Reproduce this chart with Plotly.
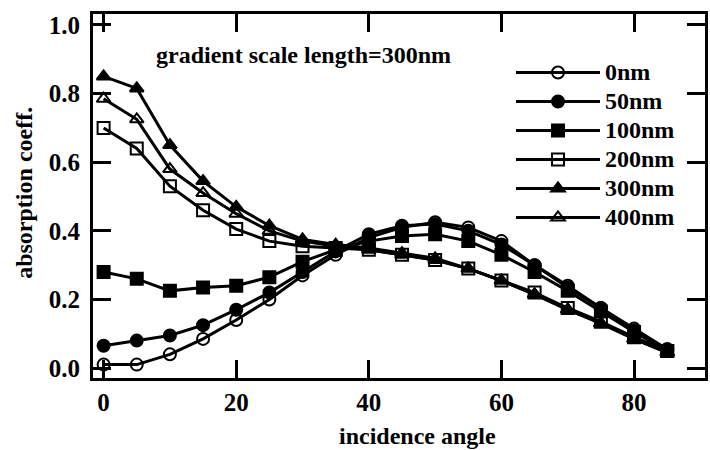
import plotly.graph_objects as go

angles = [0, 5, 10, 15, 20, 25, 30, 35, 40, 45, 50, 55, 60, 65, 70, 75, 80, 85]
s0 = [0.01, 0.01, 0.04, 0.085, 0.14, 0.20, 0.27, 0.33, 0.38, 0.41, 0.425, 0.41, 0.37, 0.30, 0.24, 0.175, 0.115, 0.055]
s50 = [0.065, 0.08, 0.095, 0.125, 0.17, 0.22, 0.28, 0.34, 0.39, 0.415, 0.42, 0.40, 0.36, 0.30, 0.235, 0.175, 0.11, 0.055]
s100 = [0.28, 0.26, 0.225, 0.235, 0.24, 0.265, 0.31, 0.345, 0.37, 0.385, 0.39, 0.37, 0.33, 0.28, 0.225, 0.165, 0.105, 0.05]
s200 = [0.70, 0.64, 0.53, 0.46, 0.405, 0.37, 0.355, 0.35, 0.345, 0.33, 0.315, 0.29, 0.255, 0.22, 0.175, 0.135, 0.09, 0.05]
s300 = [0.85, 0.815, 0.65, 0.545, 0.47, 0.415, 0.375, 0.36, 0.35, 0.335, 0.32, 0.29, 0.255, 0.215, 0.17, 0.13, 0.085, 0.045]
s400 = [0.785, 0.725, 0.58, 0.51, 0.45, 0.40, 0.37, 0.355, 0.345, 0.33, 0.315, 0.29, 0.255, 0.215, 0.17, 0.13, 0.085, 0.045]

names = ["0nm", "50nm", "100nm", "200nm", "300nm", "400nm"]
series = [s0, s50, s100, s200, s300, s400]
symbols = ["circle-open", "circle", "square", "square-open", "triangle-up", "triangle-up-open"]

x_ticks = [0, 20, 40, 60, 80]
y_ticks = [0, 0.2, 0.4, 0.6, 0.8, 1.0]

FONT = "Liberation Serif, DejaVu Serif, Times New Roman, serif"

fig = go.Figure()
for name, ys, sym in zip(names, series, symbols):
    fig.add_trace(go.Scatter(
        x=angles, y=ys, name="<span style='font-size:24px'>%s</span>" % name,
        mode="lines+markers",
        line=dict(color="black", width=3),
        marker=dict(symbol=sym, size=12, color="black",
                    line=dict(color="black", width=2)),
    ))

axis_common = dict(
    showline=True, linecolor="black", linewidth=3, mirror="ticks",
    ticks="inside", ticklen=18, tickwidth=3, tickcolor="black",
    showgrid=False, zeroline=False,
    tickfont=dict(family=FONT, size=25, color="black", weight="bold"),
)

fig.update_layout(
    width=710, height=450,
    margin=dict(l=93, r=2, t=14, b=72),
    paper_bgcolor="white", plot_bgcolor="white",
    font=dict(family=FONT, color="black"),
    xaxis=dict(range=[-1.6, 90.7], tickvals=x_ticks, **axis_common),
    yaxis=dict(range=[-0.029, 1.032], tickvals=y_ticks, tickformat=".1f",
               ticklabelstandoff=5, **axis_common),
    legend=dict(x=0.683, y=0.893, xanchor="left", yanchor="top",
                bgcolor="rgba(0,0,0,0)", borderwidth=0,
                font=dict(family=FONT, size=20, color="black", weight="bold"),
                itemwidth=84, tracegroupgap=0),
    showlegend=True,
)

fig.add_annotation(x=0.1, y=0.887, xref="paper", yref="paper", xanchor="left", yanchor="middle",
                   text="gradient scale length=300nm", showarrow=False,
                   font=dict(family=FONT, size=24, color="black", weight="bold"))
fig.add_annotation(x=0.53, y=-0.118, xref="paper", yref="paper", xanchor="center", yanchor="top",
                   text="incidence angle", showarrow=False,
                   font=dict(family=FONT, size=24, color="black", weight="bold"))
fig.add_annotation(x=-0.112, y=0.51, xref="paper", yref="paper", xanchor="center", yanchor="middle",
                   text="absorption coeff.", showarrow=False, textangle=-90,
                   font=dict(family=FONT, size=24, color="black", weight="bold"))

fig.write_html("out.html")
